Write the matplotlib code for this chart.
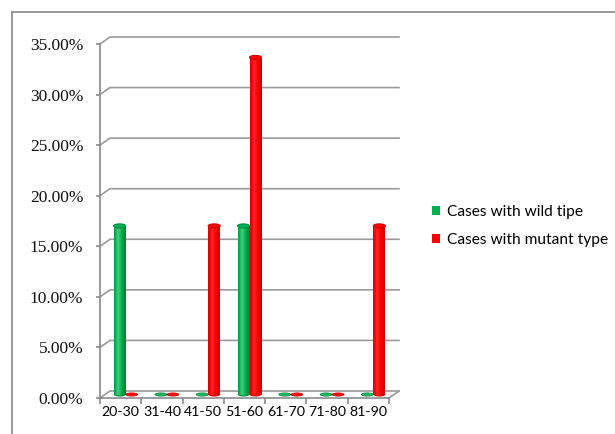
import numpy as np
import matplotlib
matplotlib.use("Agg")
import matplotlib.pyplot as plt
from matplotlib.patches import Rectangle, Ellipse, Patch
from matplotlib.colors import to_rgb

# ---- data -------------------------------------------------------------
age_groups = ["20-30", "31-40", "41-50", "51-60", "61-70", "71-80", "81-90"]
wild_type = [16.67, 0.0, 0.0, 16.67, 0.0, 0.0, 0.0]      # percent
mutant_type = [0.0, 0.0, 16.67, 33.33, 0.0, 0.0, 16.67]  # percent
y_ticks = [0, 5, 10, 15, 20, 25, 30, 35]
series_labels = ["Cases with wild tipe", "Cases with mutant type"]

# ---- styling ----------------------------------------------------------
W, H, DPI = 615, 434, 100
GRID = "#9a9a9a"
AXIS = "#8a8a8a"
GREEN = "#00B050"
RED = "#FF0000"
green_grad = ["#0b8f44", "#19b55c", "#3fd07c", "#22be63", "#06a84b", "#00933f", "#007a33"]
red_grad = ["#dc0000", "#f80000", "#ff2a2a", "#ff1010", "#f80000", "#e00000", "#c00000"]

fig = plt.figure(figsize=(W / DPI, H / DPI), dpi=DPI)
fig.patch.set_facecolor("white")

# outer chart-area frame (top and left edges)
fx0, fy0 = 12 / W, 1 - 12 / H
fig.add_artist(plt.Line2D([fx0, fx0], [0, fy0], color=AXIS, lw=1.2, transform=fig.transFigure))
fig.add_artist(plt.Line2D([fx0, 1.0], [fy0, fy0], color=AXIS, lw=1.2, transform=fig.transFigure))

# front plane of the 3-D plot
ax_l, ax_r, ax_b, ax_t = 100, 389, 398, 44
ax = fig.add_axes([ax_l / W, 1 - ax_b / H, (ax_r - ax_l) / W, (ax_b - ax_t) / H])
n = len(age_groups)
ymax = y_ticks[-1]
ax.set_xlim(0, n)
ax.set_ylim(0, ymax)
px_x = n / (ax_r - ax_l)
px_y = ymax / (ax_b - ax_t)

# depth offsets (back wall and middle of the depth)
dx_b, dy_b = 10 * px_x, 7 * px_y
dx_m, dy_m = 5 * px_x, 3.5 * px_y

for s in ["top", "right"]:
    ax.spines[s].set_visible(False)
for s in ["left", "bottom"]:
    ax.spines[s].set_color(AXIS)
    ax.spines[s].set_linewidth(1.2)
ax.patch.set_alpha(0)

ax.set_yticks(y_ticks)
ax.set_yticklabels([f"{v:.2f}%" for v in y_ticks], fontfamily="Liberation Serif",
                   fontsize=12.5, color="#111111")
ax.tick_params(axis="y", direction="out", length=3, width=1.2, color=AXIS, pad=9)

ax.set_xticks(np.arange(n + 1))
ax.set_xticklabels([])
ax.set_xticks(np.arange(n) + 0.5, minor=True)
ax.set_xticklabels(age_groups, minor=True, fontfamily="Lato", fontsize=10.2)
ax.tick_params(axis="x", which="major", direction="out", length=4, width=1.2, color=AXIS)
ax.tick_params(axis="x", which="minor", length=0, pad=6)

# back-wall gridlines with their side diagonals
for v in y_ticks:
    ax.plot([0, dx_b, n + dx_b], [v, v + dy_b, v + dy_b], color=GRID, lw=1.2,
            clip_on=False, zorder=1, solid_joinstyle="miter")
# floor right edge
ax.plot([n, n + dx_b], [0, dy_b], color=GRID, lw=1.2, clip_on=False, zorder=1)

# ---- cylinders --------------------------------------------------------
bw = 12 * px_x
cap_h = 4 * px_y


def cylinder(xc, val, grad, base):
    cmap = matplotlib.colors.LinearSegmentedColormap.from_list("g", grad)
    img = cmap(np.linspace(0, 1, 64))[None, :, :]
    y0 = dy_m
    if val > 0:
        body = Rectangle((xc - bw / 2, y0), bw, val, facecolor="none", edgecolor="none",
                         clip_on=False, zorder=3)
        ax.add_patch(body)
        im = ax.imshow(img, extent=(xc - bw / 2, xc + bw / 2, y0, y0 + val),
                       aspect="auto", zorder=3, interpolation="bilinear")
        im.set_clip_path(body)
        ax.add_patch(Ellipse((xc, y0), bw, cap_h, facecolor=grad[-2], edgecolor="none",
                             zorder=2.9, clip_on=False))
        top = np.array(to_rgb(base)) * 0.82
        ax.add_patch(Ellipse((xc, y0 + val), bw, cap_h, facecolor=base, edgecolor=top,
                             lw=0.8, zorder=4, clip_on=False))
    else:
        ax.add_patch(Ellipse((xc, y0), bw, cap_h * 0.8, facecolor=grad[3], edgecolor=grad[-1],
                             lw=0.5, zorder=3, clip_on=False))


for i in range(n):
    xc = i + 0.5 + dx_m
    cylinder(xc - bw / 2, wild_type[i], green_grad, GREEN)
    cylinder(xc + bw / 2, mutant_type[i], red_grad, RED)

ax.set_xlim(0, n)
ax.set_ylim(0, ymax)

# ---- legend -----------------------------------------------------------
handles = [Patch(facecolor=GREEN, edgecolor="none"), Patch(facecolor=RED, edgecolor="none")]
fig.legend(handles, series_labels, loc="center left", bbox_to_anchor=(418 / W, 1 - 226 / H),
           frameon=False, prop={"family": "Lato", "size": 11.2}, handlelength=0.5,
           handleheight=0.5, handletextpad=0.45, labelspacing=0.95)

fig.savefig("out.png", dpi=DPI)
